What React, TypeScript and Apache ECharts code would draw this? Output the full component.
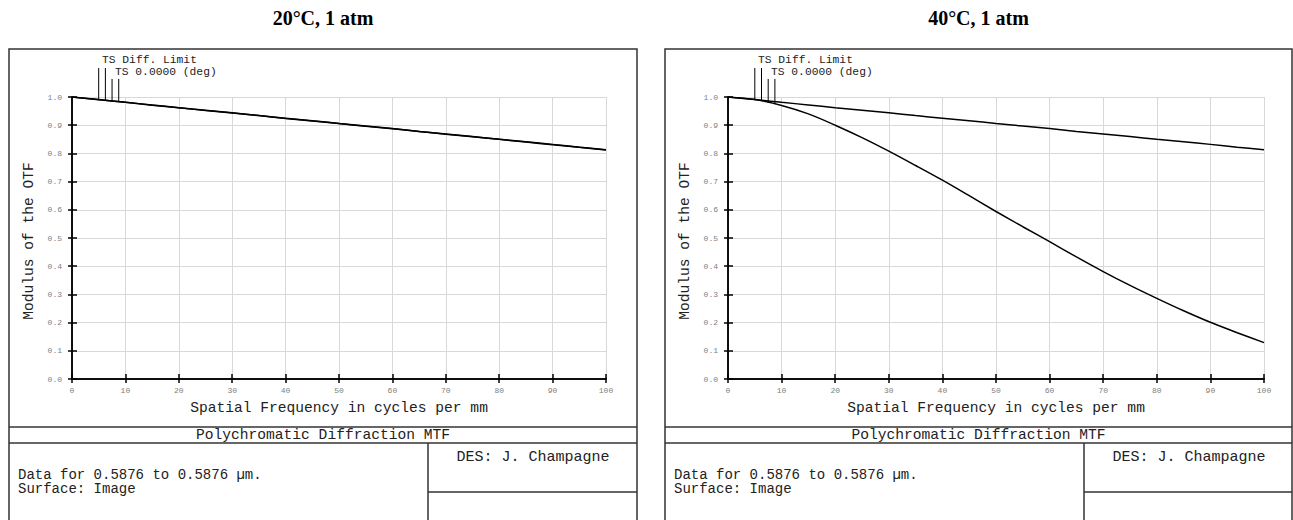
import React, { useEffect, useRef } from "react";
import * as echarts from "echarts";

const titles = ["20°C, 1 atm", "40°C, 1 atm"];
const freqs = [0, 5, 10, 15, 20, 25, 30, 35, 40, 45, 50, 55, 60, 65, 70, 75, 80, 85, 90, 95, 100];
const diffLimit = [1.0, 0.991, 0.981, 0.972, 0.962, 0.953, 0.944, 0.934, 0.925, 0.916, 0.906, 0.897, 0.888, 0.878, 0.869, 0.86, 0.85, 0.841, 0.832, 0.822, 0.813];
const actual20 = [1.0, 0.99, 0.981, 0.971, 0.962, 0.952, 0.943, 0.934, 0.924, 0.915, 0.906, 0.896, 0.887, 0.878, 0.868, 0.859, 0.85, 0.84, 0.831, 0.822, 0.812];
const actual40 = [1.0, 0.991, 0.97, 0.94, 0.9, 0.856, 0.808, 0.757, 0.705, 0.65, 0.594, 0.54, 0.487, 0.433, 0.381, 0.332, 0.286, 0.242, 0.201, 0.164, 0.129];
const markerFreqs = [5, 6.25, 7.5, 8.75];
const markerTops = [1.103, 1.103, 1.064, 1.064];
const markerBottoms20 = [0.99, 0.988, 0.986, 0.983];
const markerBottoms40 = [0.99, 0.988, 0.979, 0.974];
const legendLabels = ["TS Diff. Limit", "TS 0.0000 (deg)"];
const xLabel = "Spatial Frequency in cycles per mm";
const yLabel = "Modulus of the OTF";
const footerTitle = "Polychromatic Diffraction MTF";
const designer = "DES: J. Champagne";
const dataLines = ["Data for 0.5876 to 0.5876 µm.", "Surface: Image"];

const MONO = "'Liberation Mono', 'DejaVu Sans Mono', monospace";

export default function App() {
  const ref = useRef<HTMLDivElement>(null);
  useEffect(() => {
    document.body.style.margin = "0";
    const chart = echarts.init(ref.current!, null, { renderer: "svg" });
    const grids = [
      { left: 72, top: 97, width: 534, height: 282 },
      { left: 728, top: 97, width: 536, height: 282 },
    ];
    const xAxis: any[] = [];
    const yAxis: any[] = [];
    grids.forEach((_, gi) => {
      xAxis.push({
        type: "value", gridIndex: gi, min: 0, max: 100, interval: 10, position: "bottom",
        axisLine: { lineStyle: { color: "#000", width: 1.5 } },
        axisTick: { inside: true, length: 5, lineStyle: { color: "#000", width: 1.5 } },
        axisLabel: { color: "#808080", fontSize: 8, fontFamily: MONO, margin: 7 },
        splitLine: { show: true, lineStyle: { color: "#d8d8d8", width: 1 } },
      });
      xAxis.push({
        type: "value", gridIndex: gi, min: 0, max: 100, interval: 10, position: "top",
        axisLine: { lineStyle: { color: "#000", width: 1.5 } },
        axisTick: { inside: true, length: 4, lineStyle: { color: "#000", width: 1.5 } },
        axisLabel: { show: false },
        splitLine: { show: false },
      });
      yAxis.push({
        type: "value", gridIndex: gi, min: 0, max: 1, interval: 0.1, position: "left",
        axisLine: { show: true, lineStyle: { color: "#000", width: 1.5 } },
        axisTick: { show: true, inside: true, length: 5, lineStyle: { color: "#000", width: 1.5 } },
        axisLabel: { color: "#808080", fontSize: 8, fontFamily: MONO, margin: 10, formatter: (v: number) => v.toFixed(1) },
        splitLine: { show: true, lineStyle: { color: "#d8d8d8", width: 1 } },
      });
      yAxis.push({
        type: "value", gridIndex: gi, min: 0, max: 1, interval: 0.1, position: "right",
        axisLine: { show: true, lineStyle: { color: "#000", width: 1.5 } },
        axisTick: { show: true, inside: true, length: 4, lineStyle: { color: "#000", width: 1.5 } },
        axisLabel: { show: false },
        splitLine: { show: false },
      });
    });

    const curve = (vals: number[], gi: number) => ({
      type: "line", xAxisIndex: gi * 2, yAxisIndex: gi * 2, showSymbol: false, smooth: 0.3,
      data: freqs.map((f, i) => [f, vals[i]]),
      lineStyle: { color: "#000", width: 1.5 }, silent: true,
    });
    const series: any[] = [
      curve(diffLimit, 0), curve(actual20, 0), curve(diffLimit, 1), curve(actual40, 1),
    ];
    [markerBottoms20, markerBottoms40].forEach((bottoms, gi) => {
      markerFreqs.forEach((f, i) => {
        series.push({
          type: "line", xAxisIndex: gi * 2, yAxisIndex: gi * 2, showSymbol: false, clip: false,
          data: [[f, markerTops[i]], [f, bottoms[i]]],
          lineStyle: { color: "#000", width: 1 }, silent: true,
        });
      });
    });

    const graphic: any[] = [];
    const offsets = [0, 656];
    offsets.forEach((ox, pi) => {
      const fl = 9 + ox;
      const fr = pi === 0 ? 637 : 1292;
      const cx = (fl + fr) / 2;
      const gc = grids[pi].left + grids[pi].width / 2;
      const stroke = { stroke: "#333", lineWidth: 1.5, fill: "none" };
      graphic.push(
        { type: "text", x: cx, y: 18, style: { text: titles[pi], font: "bold 20px 'Liberation Serif', 'Times New Roman', serif", fill: "#000", align: "center", verticalAlign: "middle" } },
        { type: "rect", shape: { x: fl, y: 49, width: fr - fl, height: 500 }, style: stroke },
        { type: "line", shape: { x1: fl, y1: 427, x2: fr, y2: 427 }, style: stroke },
        { type: "line", shape: { x1: fl, y1: 443, x2: fr, y2: 443 }, style: stroke },
        { type: "line", shape: { x1: 428 + ox, y1: 443, x2: 428 + ox, y2: 540 }, style: stroke },
        { type: "line", shape: { x1: 428 + ox, y1: 492, x2: fr, y2: 492 }, style: stroke },
        { type: "text", x: cx, y: 435, style: { text: footerTitle, font: `14.6px ${MONO}`, fill: "#222", align: "center", verticalAlign: "middle" } },
        { type: "text", x: 533 + ox, y: 457, style: { text: designer, font: `15px ${MONO}`, fill: "#222", align: "center", verticalAlign: "middle" } },
        { type: "text", x: 18 + ox, y: 481.5, style: { text: dataLines.join("\n"), font: `14px ${MONO}`, lineHeight: 14, fill: "#222", align: "left", verticalAlign: "middle" } },
        { type: "text", x: gc, y: 408, style: { text: xLabel, font: `14.6px ${MONO}`, fill: "#222", align: "center", verticalAlign: "middle" } },
        { type: "text", x: 29 + ox, y: 241, rotation: Math.PI / 2, style: { text: yLabel, font: `14.6px ${MONO}`, fill: "#222", align: "center", verticalAlign: "middle" } },
        { type: "text", x: 102 + ox, y: 60, style: { text: legendLabels[0], font: `11.3px ${MONO}`, fill: "#222", align: "left", verticalAlign: "middle" } },
        { type: "text", x: 115 + ox, y: 72, style: { text: legendLabels[1], font: `11.3px ${MONO}`, fill: "#222", align: "left", verticalAlign: "middle" } },
      );
    });

    chart.setOption({
      animation: false,
      backgroundColor: "#fff",
      grid: grids,
      xAxis,
      yAxis,
      series,
      graphic,
    });
    return () => chart.dispose();
  }, []);
  return <div ref={ref} style={{ width: 1293, height: 520 }} />;
}
